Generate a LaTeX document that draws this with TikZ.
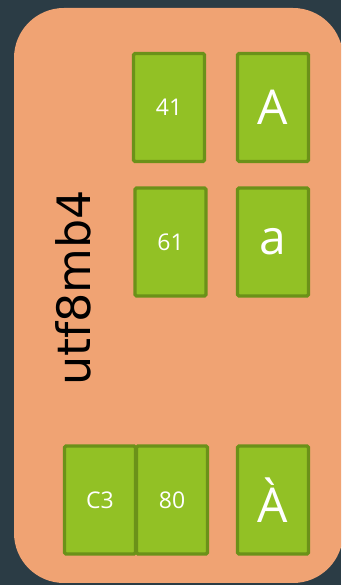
\documentclass[tikz,border=0pt]{standalone}
\usepackage{fontspec}
\setmainfont{Open Sans}
\newfontfamily\labfont{DejaVu Sans}
\definecolor{bgdark}{HTML}{2B3C45}
\definecolor{panel}{HTML}{F0A373}
\definecolor{cellfill}{HTML}{92C125}
\definecolor{celledge}{HTML}{6B9119}
\tikzset{
  cell/.style={draw=celledge, fill=cellfill, line width=3.2pt, rounded corners=1.5pt,
    minimum width=71pt, minimum height=108pt, inner sep=0pt, text=white},
  hexlab/.style={font=\fontsize{23}{23}\selectfont},
  charlab/.style={font=\fontsize{48}{48}\selectfont},
}
\begin{document}
\begin{tikzpicture}[x=1pt,y=1pt]
\fill[bgdark] (0,0) rectangle (341,585);
\useasboundingbox (0,0) rectangle (341,585);
\begin{scope}
\clip (0,0) rectangle (341,585);
\fill[panel, rounded corners=50pt] (14,2) rectangle (343,577);
\end{scope}
% row 1 (y 52..163)
\node[cell, hexlab] (h41) at (169,477.5) {41};
\node[cell, charlab] (cA) at (273,477.5) {A};
% row 2 (y 186..298)
\node[cell, hexlab] (h61) at (170.5,343) {61};
\node[cell, charlab] (ca) at (273,343) {a};
% row 3 (y 444..556)
\node[cell, hexlab] (hC3) at (100,85) {C3};
\node[cell, hexlab] (h80) at (172,85) {80};
\node[cell, charlab] (cAg) at (273,85) {À};
% label
\node[rotate=90, font=\labfont\fontsize{46}{46}\selectfont, text=black] (lab) at (73,297) {utf8mb4};
\end{tikzpicture}
\end{document}
